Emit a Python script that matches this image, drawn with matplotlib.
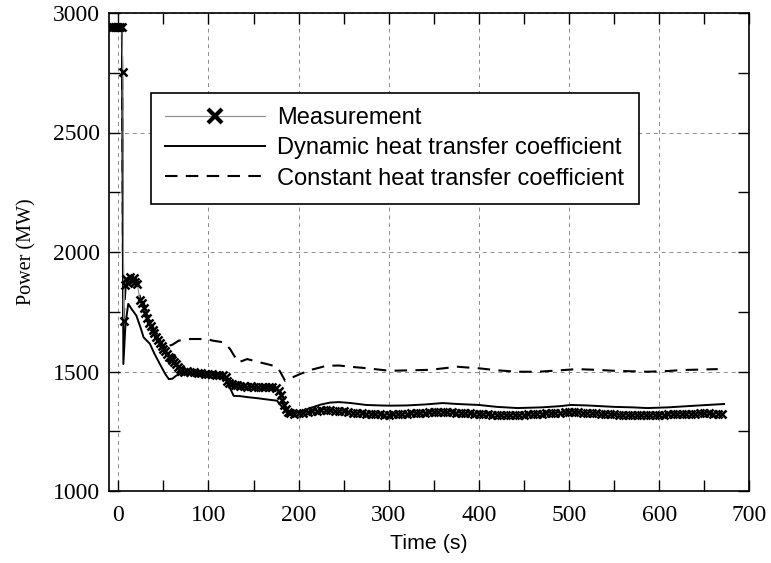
"""
plot.py  -  Power transient: measurement vs. dynamic / constant heat transfer coefficient.
"""
import matplotlib
matplotlib.use("Agg")
import matplotlib.pyplot as plt
from matplotlib.lines import Line2D
from matplotlib.ticker import MultipleLocator

SERIF = ["Liberation Serif", "DejaVu Serif"]
SANS = ["Liberation Sans", "DejaVu Sans"]

# ---------------- data ----------------
meas_t = [-10, -8, -6, -4, -2, 0, 2, 4, 5, 6, 7, 9, 11, 13, 15, 17, 19, 21, 24, 26,
          28, 30, 32, 34, 36, 38, 40, 42, 44, 46, 48, 50, 52, 54, 56, 58, 60, 62, 64, 66,
          68, 70, 73, 76, 80, 84, 88, 92, 96, 100, 104, 108, 112, 116, 119, 121, 123, 126, 129, 132,
          135, 139, 143, 147, 151, 155, 159, 163, 167, 171, 175, 178, 180, 182, 184, 186, 188, 191, 195, 200,
          205, 210, 215, 220, 225, 230, 235, 240, 245, 250, 255, 260, 265, 270, 275, 280, 285, 290, 295, 300,
          305, 310, 315, 320, 325, 330, 335, 340, 345, 350, 355, 360, 365, 370, 375, 380, 385, 390, 395, 400,
          405, 410, 415, 420, 425, 430, 435, 440, 445, 450, 455, 460, 465, 470, 475, 480, 485, 490, 495, 500,
          505, 510, 515, 520, 525, 530, 535, 540, 545, 550, 555, 560, 565, 570, 575, 580, 585, 590, 595, 600,
          605, 610, 615, 620, 625, 630, 635, 640, 645, 650, 655, 660, 665, 670]
meas_p = [2942, 2942, 2942, 2942, 2942, 2942, 2942, 2940, 2755, 1713, 1860, 1885, 1870, 1895, 1880, 1890, 1875, 1865, 1800, 1785,
          1765, 1745, 1725, 1705, 1690, 1672, 1660, 1645, 1632, 1618, 1605, 1595, 1585, 1572, 1562, 1555, 1547, 1540, 1530, 1520,
          1510, 1502, 1500, 1501, 1498, 1496, 1494, 1492, 1490, 1490, 1488, 1487, 1486, 1484, 1478, 1462, 1450, 1447, 1445, 1444,
          1440, 1438, 1437, 1438, 1436, 1436, 1435, 1436, 1434, 1434, 1432, 1420, 1400, 1380, 1360, 1342, 1332, 1325, 1322, 1325,
          1328, 1330, 1333, 1336, 1338, 1340, 1338, 1336, 1334, 1333, 1330, 1328, 1327, 1325, 1323, 1322, 1322, 1321, 1320, 1320,
          1321, 1322, 1323, 1324, 1325, 1326, 1327, 1328, 1329, 1330, 1331, 1331, 1330, 1329, 1328, 1327, 1326, 1325, 1324, 1323,
          1322, 1321, 1320, 1319, 1318, 1318, 1318, 1318, 1319, 1320, 1321, 1322, 1323, 1324, 1325, 1326, 1327, 1328, 1329, 1330,
          1330, 1329, 1328, 1327, 1326, 1325, 1324, 1323, 1322, 1321, 1320, 1319, 1318, 1318, 1317, 1317, 1317, 1318, 1319, 1320,
          1320, 1321, 1322, 1322, 1323, 1323, 1324, 1324, 1325, 1325, 1325, 1324, 1324, 1323]

dyn_t = [-10, 4, 5.6, 8, 11, 15, 20, 25, 28, 35, 40, 46, 52, 56, 60, 64, 68.5, 80, 90, 100,
         110, 118.5, 124, 128, 135, 145, 155, 165, 176, 181, 187, 195, 202, 215, 225, 235, 245, 258, 275, 290,
         301, 320, 340, 360, 376, 400, 420, 443, 470, 490, 502, 520, 550, 570, 587, 610, 640, 672]
dyn_p = [2942, 2942, 1531, 1700, 1783, 1760, 1734, 1680, 1643, 1616, 1575, 1532, 1490, 1468, 1470, 1482, 1490, 1490, 1487, 1485,
         1483, 1475, 1430, 1398, 1397, 1392, 1388, 1383, 1378, 1355, 1328, 1330, 1332, 1350, 1362, 1370, 1372, 1368, 1360, 1358,
         1357, 1358, 1362, 1368, 1364, 1360, 1352, 1347, 1350, 1355, 1360, 1358, 1352, 1350, 1347, 1350, 1357, 1364]

const_t = [-10, 4, 5.5, 8, 12, 18, 22, 26, 30, 36, 42, 48, 54, 60, 67, 80, 98, 105, 117, 124,
           133, 143, 155, 165, 176, 180, 185, 193, 202, 215, 231, 245, 257, 272, 301, 325, 346, 376, 401, 420,
           443, 466, 490, 509, 530, 550, 587, 610, 624, 645, 665]
const_p = [2942, 2942, 1700, 1850, 1885, 1880, 1840, 1785, 1740, 1690, 1650, 1620, 1605, 1612, 1629, 1636, 1636, 1629, 1622, 1594,
           1538, 1552, 1540, 1531, 1520, 1496, 1461, 1475, 1490, 1508, 1524, 1525, 1520, 1515, 1503, 1505, 1507, 1520, 1513, 1505,
           1499, 1499, 1505, 1510, 1507, 1503, 1499, 1502, 1506, 1508, 1510]

labels = ["Measurement", "Dynamic heat transfer coefficient", "Constant heat transfer coefficient"]


def main() -> None:
    fig = plt.figure(figsize=(7.71, 5.63), dpi=100)
    ax = fig.add_axes([109.3 / 771, 1 - 491 / 563, 640 / 771, 478 / 563])

    ax.plot(const_t, const_p, color="k", lw=1.5, dashes=(6, 4), zorder=3)
    ax.plot(dyn_t, dyn_p, color="k", lw=1.4, zorder=3)
    ax.plot(meas_t, meas_p, color="0.55", lw=0.8, marker="x", ms=5.5, mew=1.8,
            mec="k", zorder=4)

    ax.set_xlim(-10, 700)
    ax.set_ylim(1000, 3000)
    ax.xaxis.set_major_locator(MultipleLocator(100))
    ax.xaxis.set_minor_locator(MultipleLocator(50))
    ax.yaxis.set_major_locator(MultipleLocator(500))
    ax.yaxis.set_minor_locator(MultipleLocator(250))

    ax.grid(True, which="major", color="0.55", lw=0.7, dashes=(4, 4))
    ax.tick_params(which="both", direction="in", top=True, right=True,
                   length=8, width=1.0, labelsize=17)
    ax.tick_params(axis="x", pad=10)
    ax.tick_params(axis="y", pad=6.5)
    for lab in ax.get_xticklabels() + ax.get_yticklabels():
        lab.set_family(SERIF)
    for sp in ax.spines.values():
        sp.set_linewidth(1.2)

    ax.set_xlabel("Time (s)", family=SANS, fontsize=15.4, labelpad=6)
    ax.set_ylabel("Power (MW)", family=SERIF, fontsize=14.5, labelpad=12)

    handles = [
        Line2D([], [], color="0.55", lw=0.8, marker="x", ms=10, mew=3, mec="k"),
        Line2D([], [], color="k", lw=1.4),
        Line2D([], [], color="k", lw=1.5, dashes=(6, 4)),
    ]
    leg = ax.legend(handles, labels, loc="upper left",
                    bbox_to_anchor=(0.0652, 0.8326), borderaxespad=0,
                    prop={"family": SANS, "size": 17}, numpoints=1,
                    handlelength=4.24, handletextpad=0.51, labelspacing=0.35,
                    borderpad=0.6, fancybox=False, framealpha=1)
    leg.get_frame().set_edgecolor("k")
    leg.get_frame().set_linewidth(1.2)

    fig.savefig("out.png", dpi=100)
    plt.close(fig)


if __name__ == "__main__":
    main()
